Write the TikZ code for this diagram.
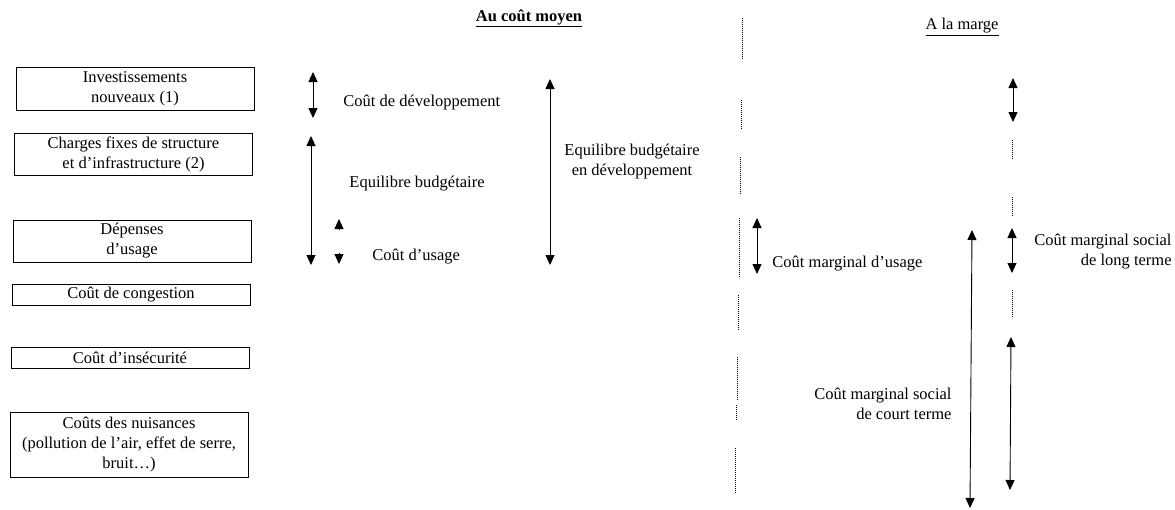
\documentclass[tikz,border=0pt]{standalone}
\usepackage{fontspec}
\setmainfont{Liberation Serif}
\usetikzlibrary{arrows.meta}
\tikzset{
    every path/.style={line width=0.9pt},
    box/.style={draw, rectangle, minimum width=238pt, inner sep=2pt, align=center},
    lbl/.style={inner sep=0pt, align=center},
    both/.style={{Triangle[length=10pt,width=9pt]}-{Triangle[length=10pt,width=9pt]}},
    onehead/.style={-{Triangle[length=10pt,width=9pt]}},
    divider/.style={line width=0.8pt, dash pattern=on 1pt off 1pt}
}

\begin{document}
\begin{tikzpicture}[x=1pt,y=-1pt,font=\fontsize{16.5}{20}\selectfont]
\useasboundingbox (0,0) rectangle (1175,509);

\node[lbl,font=\fontsize{16.5}{20}\selectfont\bfseries] (moy) at (529,18) {\underline{Au coût moyen}};
\node[lbl] (marge) at (962,27) {\underline{A la marge}};

\node[box,minimum height=43pt] (inv) at (135,88.5) {Investissements\\nouveaux (1)};
\node[box,minimum height=42pt] (chg) at (133.5,154) {Charges fixes de structure\\et d'infrastructure (2)};
\node[box,minimum height=42pt] (dep) at (132,241) {Dépenses\\d'usage};
\node[box,minimum height=21pt] (cong) at (131,294.5) {Coût de congestion};
\node[box,minimum height=21pt] (insec) at (130,357.5) {Coût d'insécurité};
\node[box,minimum height=65pt] (nuis) at (129,444.5) {Coûts des nuisances\\(pollution de l'air, effet de serre,\\bruit\dots)};

\coordinate (dev1) at (313,72);
\coordinate (dev2) at (313,118);
\coordinate (eq1) at (311,136);
\coordinate (eq2) at (311,265);
\coordinate (us1) at (339,230);
\coordinate (us1t) at (339,219);
\coordinate (us2) at (339,253);
\coordinate (us2t) at (339,264);
\coordinate (ed1) at (550,79);
\coordinate (ed2) at (550,265);
\draw [both] (dev1) -- (dev2);
\draw [both] (eq1) -- (eq2);
\draw [onehead] (us1) -- (us1t);
\draw [onehead] (us2) -- (us2t);
\draw [both] (ed1) -- (ed2);

\node[lbl,anchor=west] (ldev) at (343,103) {Coût de développement};
\node[lbl,anchor=west] (leq) at (349,184) {Equilibre budgétaire};
\node[lbl,anchor=west] (lus) at (372,257) {Coût d'usage};
\node[lbl] (led) at (632,162) {Equilibre budgétaire\\en développement};

\foreach \xa/\ya/\yb in {742.5/18/60, 741.5/100/130, 740.5/157/195, 739.5/218/277,
    738.5/295/330, 737/357/400, 736.5/405/420, 735/448/493}
    \draw [divider] (\xa,\ya) -- (\xa,\yb);
\foreach \ya/\yb in {140/160, 197/217, 290/317}
    \draw [divider] (1012,\ya) -- (1012,\yb);

\coordinate (mu1) at (757,218);
\coordinate (mu2) at (757,274);
\coordinate (ct1) at (972,230);
\coordinate (ct2) at (970,508);
\coordinate (lt1) at (1013,78);
\coordinate (lt2) at (1013,122);
\coordinate (lt3) at (1012,228);
\coordinate (lt4) at (1012,273);
\coordinate (lt5) at (1011,337);
\coordinate (lt6) at (1010,490);
\draw [both] (mu1) -- (mu2);
\draw [both] (ct1) -- (ct2);
\draw [both] (lt1) -- (lt2);
\draw [both] (lt3) -- (lt4);
\draw [both] (lt5) -- (lt6);

\node[lbl,anchor=west] (lmu) at (772,264) {Coût marginal d'usage};
\node[lbl,anchor=east,align=right] (lct) at (952,404) {Coût marginal social\\de court terme};
\node[lbl,anchor=east,align=right] (llt) at (1172,252) {Coût marginal social\\de long terme};
\end{tikzpicture}
\end{document}
